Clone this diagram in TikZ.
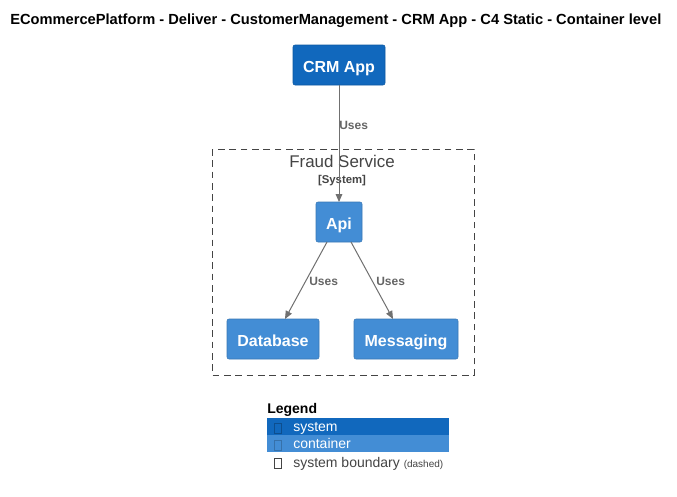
\documentclass[tikz,border=0pt]{standalone}
\usepackage{fontspec}
\setmainfont{Liberation Sans}
\usetikzlibrary{arrows.meta}
\definecolor{sysblue}{HTML}{1168BD}
\definecolor{contblue}{HTML}{438DD5}
\definecolor{relgray}{HTML}{707070}
\definecolor{txtgray}{HTML}{444444}
\begin{document}
\begin{tikzpicture}[x=0.75pt,y=-0.75pt,
  sysbox/.style={draw=sysblue!85!black, line width=0.4pt, fill=sysblue, rounded corners=1.5pt, text=white, font=\fontsize{12}{14}\selectfont\bfseries, inner sep=0pt, text height=10.5pt, text depth=0pt},
  contbox/.style={draw=contblue!85!black, line width=0.4pt, fill=contblue, rounded corners=1.5pt, text=white, font=\fontsize{12}{14}\selectfont\bfseries, inner sep=0pt, text height=10.5pt, text depth=0pt},
  rel/.style={draw=relgray, line width=0.75pt, -{Triangle[length=6pt,width=5pt]}},
  rellabel/.style={text=relgray!90!black, font=\fontsize{9}{11}\selectfont\bfseries, inner sep=0pt},
  legtext/.style={font=\fontsize{10.5}{12}\selectfont, inner sep=0pt, anchor=base west},
  legicon/.style={draw, line width=0.5pt, minimum width=5.25pt, minimum height=7.5pt, inner sep=0pt}]
\useasboundingbox (0,0) rectangle (677,496);
\fill[white] (0,0) rectangle (677,496);
% title
\node[anchor=base west, font=\fontsize{11}{13}\selectfont\bfseries, inner sep=0pt] (title) at (10,24) {ECommercePlatform - Deliver - CustomerManagement - CRM App - C4 Static - Container level};
% boundary
\draw[txtgray, line width=0.6pt, dash pattern=on 5pt off 3.5pt] (212,149) rectangle (474,375);
\node[text=txtgray, font=\fontsize{12.7}{15}\selectfont, inner sep=0pt, anchor=base] (bname) at (342,167) {Fraud Service};
\node[text=txtgray, font=\fontsize{8.5}{10}\selectfont\bfseries, inner sep=0pt, anchor=base] (btype) at (342,183) {[System]};
% nodes
\node[sysbox, minimum width=69pt, minimum height=30pt] (crm) at (339,65) {CRM App};
\node[contbox, minimum width=34.5pt, minimum height=30pt] (api) at (339,222) {Api};
\node[contbox, minimum width=69pt, minimum height=30pt] (db) at (273,339) {Database};
\node[contbox, minimum width=78pt, minimum height=30pt] (msg) at (406,339) {Messaging};
% relations
\coordinate (apitop) at (339,202);
\coordinate (apibl) at (327,242);
\coordinate (apibr) at (351,242);
\coordinate (dbtop) at (285,319);
\coordinate (msgtop) at (393,319);
\draw[rel] (crm.south) -- (apitop);
\draw[rel] (apibl) -- (dbtop);
\draw[rel] (apibr) -- (msgtop);
\node[rellabel, anchor=base west] (l1) at (339,129) {Uses};
\node[rellabel, anchor=base west] (l2) at (309,285) {Uses};
\node[rellabel, anchor=base west] (l3) at (376,285) {Uses};
% legend
\node[anchor=base west, font=\fontsize{10.5}{12}\selectfont\bfseries, inner sep=0pt] (leg) at (267,413) {Legend};
\fill[sysblue] (267,418) rectangle (449,434.5);
\fill[contblue] (267,434.5) rectangle (449,452);
\node[legicon, draw=sysblue!75!black] (i1) at (277.5,428) {};
\node[legicon, draw=contblue!80!black] (i2) at (277.5,445) {};
\node[legicon, draw=txtgray] (i3) at (277.5,463) {};
\node[legtext, text=white] (t1) at (293,431.5) {system};
\node[legtext, text=white] (t2) at (293,448) {container};
\node[legtext, text=txtgray] (t3) at (293,467) {system boundary \fontsize{7.5}{9}\selectfont(dashed)};
\end{tikzpicture}
\end{document}
